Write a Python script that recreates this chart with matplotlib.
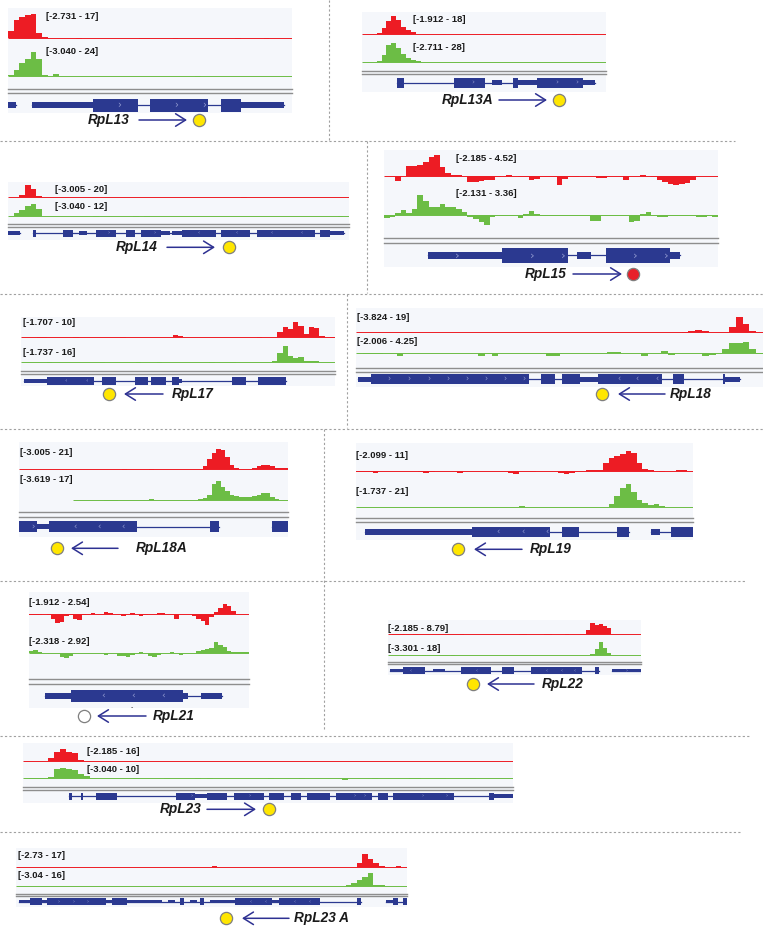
import matplotlib
matplotlib.use("Agg")
import matplotlib.pyplot as plt
from matplotlib.patches import Rectangle
import numpy as np

W, H = 763, 926
RED = "#ed1c24"
GREEN = "#6cbd45"
BLUE = "#2b3990"
ARROW = "#2e3192"
TRACK_BG = "#f5f7fb"
GRAY = "#8e8e8e"
SEP = "#a0a0a0"
FONT = "Liberation Sans"

# ---- data -------------------------------------------------------------
GENES = ["RpL13", "RpL13A", "RpL14", "RpL15", "RpL17", "RpL18",
         "RpL18A", "RpL19", "RpL21", "RpL22", "RpL23", "RpL23 A"]
STRAND = ["+", "+", "+", "+", "-", "-", "-", "-", "-", "-", "+", "-"]
STATUS = ["bound", "bound", "bound", "strong", "bound", "bound",
          "bound", "bound", "none", "bound", "bound", "bound"]
RED_RANGE = ["[-2.731 - 17]", "[-1.912 - 18]", "[-3.005 - 20]", "[-2.185 - 4.52]",
             "[-1.707 - 10]", "[-3.824 - 19]", "[-3.005 - 21]", "[-2.099 - 11]",
             "[-1.912 - 2.54]", "[-2.185 - 8.79]", "[-2.185 - 16]", "[-2.73 - 17]"]
GREEN_RANGE = ["[-3.040 - 24]", "[-2.711 - 28]", "[-3.040 - 12]", "[-2.131 - 3.36]",
               "[-1.737 - 16]", "[-2.006 - 4.25]", "[-3.619 - 17]", "[-1.737 - 21]",
               "[-2.318 - 2.92]", "[-3.301 - 18]", "[-3.040 - 10]", "[-3.04 - 16]"]

nan = float("nan")

# coverage, evenly spaced bins across each browser window
RPL13_RED = [5, 12.5, 14.5, 16, 16.5, 3, 0.3, 0, 0, 0,
             0, 0, -1.2, 0, 0, 0, 0, 0, 0, 0,
             0, 0, 0, -0.6, -0.6, 0, 0, 0, 0, -0.6,
             -0.4, 0, 0, 0, 0, 0, 0, 0, 0, 0,
             -0.8, 0, 0, 0, 0, -0.6, -0.3, 0, 0, 0]
RPL13_GREEN = [0.8, 5, 12, 15, 22, 15, 1, 0.3, 2, 0.3,
               0, 0, 0, 0, 0, 0, 0, 0, 0, 0,
               0, 0, 0, 0, 0, 0, 0, 0, 0, 0,
               0, 0, 0, -0.8, 0, 0, 0, 0, 0, 0,
               0, 0, 0, 0, 0, 0, 0, 0, 0, 0]
RPL13A_RED = [0, 0, 0, 1, 6, 12, 17.5, 13, 7, 4,
              1.5, 0.2, 0, 0, 0, 0, 0, -0.3, 0, 0,
              0, 0, 0, 0, 0, 0, 0, 0, 0, 0,
              0, 0, 0, 0, 0, 0, 0, 0, 0, 0,
              0, 0, 0, -0.5, -0.4, 0, 0, 0, 0, 0]
RPL13A_GREEN = [0, 0, 0, 2, 10, 24, 26, 19, 11, 6,
                3, 1.5, 0.3, 0, 0, 0, 0, 0, 0, 0,
                0, -0.5, 0, 0, 0, 0, 0, 0, 0, 0,
                0, 0, 0, 0, 0, 0, 0, 0, 0, 0,
                0, 0, 0, 0, 0, 0, 0, 0, 0.5, 0]
RPL14_RED = [0, 0, 3, 18, 12, 1.5, 0, 0, 0, 0,
             0, 0, 0, 0, 0, 0, 0, 0, 0, 0,
             0, 0, 0, 0, 0, 0, 0, 0, 0, 0,
             0, 0, 0, 0, 0, 0, 0, 0, 0, 0,
             0, -1.0, 0, 0, 0, 0, 0, 0.8, 0, 0,
             0, 0, 0, 0, 0, 0, 0, 0, 0, 0.5]
RPL14_GREEN = [0, 2.5, 6, 9, 11.5, 7, 0.3, 0, 0, 0,
               0, 0, 0, 0, 0, -1.0, 0, 0, 0, 0,
               0, 0, -0.5, 0, -1.0, 0, 0, 0, 0, 0,
               0, 0, 0, -0.3, 0, 0, 0, -0.4, 0, 0,
               0, 0, 0, 0, -0.3, 0, 0, 0, 0, 0,
               0, 0, 0, 0, 0, 0, 0, 0, -0.8, 0]
RPL15_RED = [0, -0.3, -1.0, 0, 2.1, 2.0, 2.3, 2.8, 4.0, 4.4,
             1.8, 0.6, 0.2, 0.3, 0, -1.2, -1.2, -1.1, -0.8, -0.9,
             -0.2, 0, 0.3, 0, -0.3, -0.3, -0.8, -0.6, -0.2, -0.2,
             -0.2, -1.8, -0.7, -0.2, -0.2, 0, 0, 0, -0.5, -0.5,
             -0.1, -0.1, -0.1, -0.8, 0, 0, 0.3, 0, -0.2, -0.8,
             -1.2, -1.7, -1.8, -1.6, -1.5, -0.8, -0.1, -0.1, -0.1, -0.1]
RPL15_GREEN = [-0.5, -0.3, 0.3, 0.8, 0.3, 0.9, 3.2, 2.2, 1.3, 1.2,
               1.8, 1.3, 1.2, 1.0, 0.4, -0.3, -0.6, -1.2, -1.6, -0.4,
               -0.1, -0.1, -0.2, -0.1, -0.5, 0.1, 0.6, 0.1, -0.2, -0.2,
               -0.2, -0.1, -0.1, -0.1, -0.2, -0.1, -0.2, -1.0, -1.0, -0.1,
               -0.1, -0.1, -0.1, -0.1, -1.2, -1.0, 0.2, 0.4, -0.1, -0.4,
               -0.3, -0.1, -0.1, -0.1, -0.1, -0.1, -0.3, -0.4, -0.1, -0.3]
RPL17_RED = [0.3, 0, 0, -0.2, -0.2, 0, 0, 0, 0.2, 0,
             -0.3, 0, 0, 0, 0.3, 0, 0, 0, 0, -0.3,
             0, 0, 0, 0, 0, 0, 0, 0, 0, 1.2,
             0.6, 0, 0, 0, 0.4, 0, 0, 0, 0, 0.3,
             0, 0.3, 0, 0, 0, -0.4, 0, 0, 0.2, 3.0,
             6.5, 5.0, 9.5, 7.0, 2.0, 6.5, 6.0, 0.5, 0.1, -0.4]
RPL17_GREEN = [0, 0, 0, 0, 0, -0.3, 0, 0, 0, 0,
               0.2, 0, 0, 0, 0, -0.3, 0, 0, 0, 0,
               0, 0, -0.3, 0, 0.2, 0, -0.3, 0, 0, 0,
               0, 0, 0, 0, 0, 0, -0.3, 0, 0, 0,
               -0.3, 0, 0, 0, 0, 0, 0, 0, 1.5, 9,
               15, 6, 4, 5, 1, 1.2, 1.0, 0.2, 0, 0]
RPL18_RED = [0, -0.8, 0, 0, 0, -0.3, 0, 0, 0, 0,
             0, 0, 0, 0, -0.3, 0, 0, 0, 0, 0,
             0, 0, 0, 0, 0, 0, 0, 0, 0, 0,
             0, 0, 0, 0, 0, 0, 0, 0, 0, -0.4,
             -0.3, 0, 0, 0, 0, 0, 0, 0, -1.0, 0.5,
             1.8, 0.5, 0, -0.3, 0, 5, 17, 9, 1, 0]
RPL18_GREEN = [0, -0.3, -0.3, -0.3, 0, -0.3, -0.8, 0, 0, 0,
               0, 0, 0, 0, 0, 0, 0, 0, -0.8, -0.3,
               -0.9, 0, 0, 0, 0, 0, 0, 0, -0.8, -0.8,
               0, 0, 0, 0, 0, 0, 0, 0.3, 0.3, 0,
               0, 0, -0.7, 0, 0, 0.6, -0.5, 0, 0, 0,
               0, -0.8, -0.4, 0, 1.5, 3.2, 3.3, 3.7, 1.5, -0.3]
RPL18A_RED = [0, -0.3, 0, 0, 0, 0, 0, 0, 0, 0,
              0, 0, 0, 0, 0, 0, 0, 0, 0, 0,
              0, 0, 0, -1.0, 0, 0, 0, 0, 0, -0.7,
              0, 0, 0, 0, 0, 0, 0, 0, 0, -0.3,
              0, 3, 9, 15, 19, 18, 11, 4, 0.5, 0.1,
              0.1, 0.1, 1.0, 2.5, 4, 4, 2.5, 1.0, 0.6, 1.2]
RPL18A_GREEN = [nan, nan, nan, nan, nan, nan, nan, nan, nan, nan,
                nan, nan, 0.2, 0.2, 0.2, 0.2, 0.2, 0.2, 0.2, -0.5,
                -0.5, -0.5, 0, 0, 0, 0, 0, 0, 0, 0.5,
                0.1, 0.1, 0.1, 0.1, 0.1, 0.1, 0.1, 0.1, 0.1, 0.1,
                1, 2, 4, 13, 16, 11, 7, 4.5, 3, 2.7,
                2.5, 2.5, 3, 4.5, 5.5, 5.5, 2.5, 0.8, 0.3, 0.2]
RPL19_RED = [-0.5, -0.5, -0.6, -1.5, -0.3, 0, 0, 0, -0.3, 0,
             0, -0.7, -1.0, -0.7, 0, 0, 0, 0, -1.0, 0,
             0, 0, 0, 0, 0, 0, 0, -1.0, -1.8, 0,
             0, -0.5, 0, 0, -0.3, 0, -1.0, -2.0, -1.0, -0.3,
             0, 0.3, 0.3, 0.1, 4, 7, 8, 9, 10.5, 9.5,
             4, 1, 0.3, 0, -0.6, 0, 0, 0.2, 0.5, 0]
RPL19_GREEN = [0, 0, 0, 0, 0, 0, 0, 0, 0, 0,
               0, 0, 0, 0, 0, 0, 0, 0, 0, 0,
               0, 0, 0, 0, 0, 0, 0, 0, 0, 0.4,
               0, 0, 0, 0, -0.3, 0, 0, 0, 0, 0,
               0, 0, 0, 0, 0, 2, 9, 16, 20, 13,
               6, 3, 1.5, 2, 0.2, 0, 0, 0, 0, 0]
RPL21_RED = [-0.2, -0.2, -0.2, -0.1, -0.2, -1.3, -2.3, -2.0, -0.5, -0.3,
             -1.2, -1.5, -0.3, 0, 0.3, 0, 0, 0.6, 0.3, 0,
             0, -0.4, 0, 0.3, 0, -0.6, -0.3, 0, 0, 0.2,
             0.2, 0, 0, -1.2, 0.1, 0, 0, -0.5, -1.2, -1.8,
             -2.8, -0.8, 0.4, 1.6, 2.5, 2.0, 0.8, 0.1, 0, 0]
RPL21_GREEN = [0.5, 0.7, 0.3, 0.1, 0.1, 0.1, 0, -0.7, -1.0, -0.5,
               0.1, 0, 0, 0, 0, 0, 0, -0.4, 0, 0,
               -0.5, -0.6, -0.8, -0.3, 0, 0.3, 0, -0.5, -0.8, -0.3,
               0, 0, 0.2, 0, -0.4, 0, 0.1, 0.1, 0.4, 0.8,
               1.0, 1.2, 2.5, 1.8, 1.3, 0.5, 0.2, 0.2, 0.3, 0.3]
RPL22_RED = [0, -0.3, -0.3, -0.3, 0, 0, -0.3, 0, 0, 0,
             0, 0, 0, 0, 0, 0, 0, -0.3, 0, 0,
             0, 0, 0, 0, 0, 0, 0, 0, 0, 0,
             0, -0.6, -0.4, 0, 0, 0, 0, -0.5, -0.6, 0,
             0, 0, -0.2, 0, 0.5, 0.5, 0.5, 3, 8.5, 7,
             7.5, 6.5, 4.5, 0.3, 0, 0, 0, 0, 0, 0]
RPL22_GREEN = [0, 0, 0, -0.3, 0, 0, 0, 0, -0.4, 0,
               0, 0, 0, 0, 0, -0.3, 0, 0, 0, 0,
               0, 0, 0, 0, 0, 0, 0, 0.4, 0, 0,
               0, 0, 0, 0, 0, 0, 0, 0, 0, 0,
               0, 0, 0, 0, 0, 0, 0, 0, 2, 8,
               17, 10, 2.5, 0.5, 0, 0, 0, 0, 0, 0]
RPL23_RED = [0, -0.4, -0.4, -0.4, 3, 11, 14, 11, 10, 1,
             0.2, 0, 0, 0, -0.3, 0, 0, 0, 0, 0,
             0, 0, 0, 0, 0, 0, 0, 0, 0, -0.3,
             0, 0, 0, 0, -0.2, 0, 0, 0, 0, 0,
             0, 0, 0, 0, 0, 0, 0, 0, 0, -0.5,
             0, 0, 0, -0.3, 0, 0, 0, 0, 0, 0,
             0, 0, 0, 0, 0, 0, -0.3, 0, 0, 0,
             0, 0, 0, 0, 0, -0.2, 0, 0, 0, 0]
RPL23_GREEN = [0, -0.3, -0.3, -0.3, 1, 8, 9, 8, 7, 4,
               2, 0.3, 0, 0, 0, 0, 0, 0, -0.3, 0,
               0, 0, 0, -0.3, 0, 0, 0, 0, -0.8, 0,
               -0.3, 0, 0, 0, 0, 0, 0, 0, 0, 0,
               -0.3, 0, 0, 0, 0, -0.3, 0, 0, 0, 0,
               0, 0, -1.5, 0, 0, 0, 0, -0.3, 0, 0,
               0, 0, 0, -0.8, -0.5, 0, 0, 0, -0.3, 0,
               0, 0, 0, -0.3, 0, 0, 0, 0.2, 0.2, 0.2]
RPL23A_RED = [0, 0, 0, -0.3, 0, 0, 0, 0, -0.6, 0,
              0, 0, 0, 0, 0, 0, 0, 0, 0, 0,
              0, 0, -0.4, 0, 0, 0, 0, 0, 0, 0,
              0, 0, 0, 0, 0, 1.5, 0, 0, 0, 0,
              0, 0, 0, 0, 0, 0, 0, 0, -0.5, 0,
              0, 0, 0, 0, -0.6, 0, 0, 0, 0, 0,
              0, 5, 15, 9, 5, 1, -0.6, 0, 0.3, 0]
RPL23A_GREEN = [0, 0, 0, 0, 0, 0, 0, 0, 0, 0,
                -0.4, 0, 0, -0.7, 0, 0, 0, 0, 0, -0.3,
                0, 0, 0, -0.5, 0, 0, 0, 0, -0.5, 0,
                0, -0.7, -0.7, 0, 0, 0, 0, 0, 0, 0,
                0, 0, 0, 0, 0, 0, 0, 0, 0, 0,
                0, 0, 0, 0, 0, 0, 0, 0, 0, 0.5,
                2.5, 7, 10, 14, 0.5, 0.3, 0, -0.3, 0, 0]

# gene models, % of window: (start, end, kind)  c = coding, u = UTR
RPL13_EXONS = [[(0, 2.7, "u")],
               [(8.5, 29.9, "u"), (29.9, 45.8, "c"), (50.1, 70.4, "c"),
                (75.1, 82.2, "c"), (82.2, 97.1, "u")]]
RPL13A_EXONS = [[(14.3, 17.1, "c"), (37.5, 50.5, "c"), (53.2, 57.3, "u"),
                 (61.7, 64.1, "c"), (64.1, 71.6, "u"), (71.6, 90.7, "c"),
                 (90.7, 95.5, "u")]]
RPL14_EXONS = [[(0, 3.4, "u")],
               [(7.3, 8.1, "c"), (16.1, 19.1, "c"), (20.7, 23.2, "u"),
                (25.9, 31.6, "c"), (34.7, 37.2, "c"), (39.1, 45.0, "c"),
                (45.0, 47.5, "u"), (48.2, 50.9, "u"), (50.9, 61.0, "c"),
                (62.6, 71.1, "c"), (72.9, 90.0, "c"), (91.5, 94.4, "c"),
                (94.4, 98.6, "u")]]
RPL15_EXONS = [[(13.1, 35.3, "u"), (35.3, 55.2, "c"), (57.7, 62.0, "u"),
                (66.4, 85.7, "c"), (85.7, 88.7, "u")]]
RPL17_EXONS = [[(0.8, 8.3, "u"), (8.3, 23.1, "c"), (25.8, 30.3, "c"),
                (36.4, 40.6, "c"), (41.5, 46.2, "c"), (48.0, 50.2, "c"),
                (50.2, 51.2, "u"), (67.1, 71.6, "c"), (75.6, 84.4, "c")]]
RPL18_EXONS = [[(0.6, 3.7, "u"), (3.7, 42.4, "c"), (45.5, 48.8, "c"),
                (50.7, 55.1, "c"), (55.1, 59.4, "u"), (59.4, 75.2, "c"),
                (77.8, 80.7, "c"), (90.2, 90.7, "c"), (90.7, 94.4, "u")]]
RPL18A_EXONS = [[(0, 6.7, "c"), (6.7, 11.2, "u"), (11.2, 43.9, "c"),
                 (70.9, 74.3, "c")],
                [(94.2, 100, "c")]]
RPL19_EXONS = [[(2.6, 34.4, "u"), (34.4, 57.7, "c"), (61.0, 66.1, "c"),
                (77.5, 81.0, "c")],
               [(87.4, 90.3, "u"), (93.6, 100, "c")]]
RPL21_EXONS = [[(7.1, 19.2, "u"), (19.2, 70.0, "c"), (70.0, 72.3, "u"),
                (78.3, 87.9, "u")]]
RPL22_EXONS = [[(0.7, 5.9, "u"), (5.9, 14.5, "c"), (17.8, 22.4, "u"),
                (29.0, 40.9, "c"), (45.1, 49.9, "c"), (56.7, 76.5, "c"),
                (81.8, 83.4, "c")],
               [(88.4, 100, "u")]]
RPL23_EXONS = [[(9.4, 10.1, "c"), (11.9, 12.2, "c"), (14.8, 19.2, "c"),
                (31.2, 35.2, "c"), (35.2, 37.6, "u"), (37.6, 41.7, "c"),
                (43.1, 49.2, "c"), (50.3, 53.3, "c"), (54.6, 56.8, "c"),
                (58.0, 62.6, "c"), (63.8, 71.2, "c"), (72.4, 74.4, "c"),
                (75.5, 87.9, "c"), (95.1, 96.1, "c"), (96.1, 100, "u")]]
RPL23A_EXONS = [[(0.7, 3.7, "u"), (3.7, 6.6, "c"), (6.6, 7.9, "u"),
                 (7.9, 23.1, "c"), (23.1, 24.5, "u"), (24.5, 28.3, "c"),
                 (28.3, 37.3, "u"), (39.0, 40.7, "u"), (42.0, 43.0, "c"),
                 (44.5, 46.2, "u"), (47.1, 48.2, "c"), (49.6, 56.0, "u"),
                 (56.0, 65.6, "c"), (65.6, 67.3, "u"), (67.3, 77.7, "c"),
                 (87.1, 88.3, "c")],
                [(94.7, 96.4, "u"), (96.4, 97.7, "c"), (99.0, 100, "c")]]

# strand chevrons drawn inside exons: (position %, direction)
RPL13_CHEV = [(39.1, ">"), (59.3, ">"), (68.9, ">")]
RPL13A_CHEV = [(45.4, ">"), (79.8, ">"), (88.0, ">")]
RPL14_CHEV = [(29.4, ">"), (43.1, ">"), (55.8, "<"), (67.0, "<"), (77.3, "<"), (86.1, "<")]
RPL15_CHEV = [(21.8, ">"), (44.3, ">"), (53.7, ">"), (75.2, ">"), (84.5, ">")]
RPL17_CHEV = [(14.1, "<"), (20.8, "<")]
RPL18_CHEV = [(8.0, ">"), (12.9, ">"), (17.8, ">"), (22.5, ">"), (27.2, ">"),
              (31.9, ">"), (36.6, ">"), (41.3, ">"), (64.7, "<"), (69.0, "<"), (73.9, "<")]
RPL18A_CHEV = [(5.0, ">"), (20.7, "<"), (29.7, "<"), (38.7, "<")]
RPL19_CHEV = [(42.1, "<"), (49.5, "<"), (56.6, "<")]
RPL21_CHEV = [(33.6, "<"), (47.3, "<"), (60.9, "<")]
RPL22_CHEV = [(9.0, "<"), (35.0, "<"), (62.7, "<"), (68.6, "<"), (73.9, "<"), (94.3, ">")]
RPL23_CHEV = [(34.4, ">"), (46.3, ">"), (67.7, ">"), (69.7, ">"), (81.6, ">"), (86.4, ">")]
RPL23A_CHEV = [(10.9, ">"), (14.6, ">"), (18.4, ">"), (60.0, "<"), (63.8, "<"),
               (71.3, "<"), (75.1, "<")]

TRACKS = [
    (RPL13_RED, RPL13_GREEN, RPL13_EXONS, RPL13_CHEV),
    (RPL13A_RED, RPL13A_GREEN, RPL13A_EXONS, RPL13A_CHEV),
    (RPL14_RED, RPL14_GREEN, RPL14_EXONS, RPL14_CHEV),
    (RPL15_RED, RPL15_GREEN, RPL15_EXONS, RPL15_CHEV),
    (RPL17_RED, RPL17_GREEN, RPL17_EXONS, RPL17_CHEV),
    (RPL18_RED, RPL18_GREEN, RPL18_EXONS, RPL18_CHEV),
    (RPL18A_RED, RPL18A_GREEN, RPL18A_EXONS, RPL18A_CHEV),
    (RPL19_RED, RPL19_GREEN, RPL19_EXONS, RPL19_CHEV),
    (RPL21_RED, RPL21_GREEN, RPL21_EXONS, RPL21_CHEV),
    (RPL22_RED, RPL22_GREEN, RPL22_EXONS, RPL22_CHEV),
    (RPL23_RED, RPL23_GREEN, RPL23_EXONS, RPL23_CHEV),
    (RPL23A_RED, RPL23A_GREEN, RPL23A_EXONS, RPL23A_CHEV),
]

# ---- layout (figure pixels) --------------------------------------------
LAYOUT = [
    dict(x=(8, 292), bg=(8, 113), red=(13.3, 41.6), green=(49.3, 79.4), lab_x=46,
         lab_y=(16.7, 51.7), gray=(89.2, 93.0), gene=(105, 13), row=120, name_x=108.5,
         arrow=(139, 187), dot=199),
    dict(x=(362, 606), bg=(11.7, 91.7), red=(15, 36), green=(41.7, 64), lab_x=413,
         lab_y=(20, 48), gray=(70.7, 74), gene=(82.7, 9.7), row=100, name_x=467.5,
         arrow=(499, 547), dot=559),
    dict(x=(8, 349), bg=(181.7, 240), red=(184, 199.3), green=(203.3, 219.2), lab_x=55,
         lab_y=(189.3, 206.7), gray=(224.3, 226.7), gene=(233.3, 7.3), row=247.3,
         name_x=136.5, arrow=(167, 215), dot=229),
    dict(x=(384, 718), bg=(150, 266.7), red=(154, 186.6), green=(194, 228.3), lab_x=456,
         lab_y=(158.3, 194), gray=(238.3, 243.3), gene=(255.3, 15), row=274, name_x=546,
         arrow=(573, 622), dot=633),
    dict(x=(21, 335), bg=(316.7, 385.7), red=(321, 340.1), green=(345, 364.2), lab_x=23,
         lab_y=(322.3, 352.3), gray=(371, 373.7), gene=(381, 8.3), row=394, name_x=193,
         arrow=(124, 163), dot=109),
    dict(x=(356, 763), bg=(308, 386.7), red=(315.7, 334.9), green=(340, 359.6), lab_x=357,
         lab_y=(318, 341), gray=(368.3, 371.7), gene=(379.3, 10), row=394, name_x=691,
         arrow=(618, 665), dot=602),
    dict(x=(19, 288), bg=(441.7, 536.7), red=(446.7, 472.2), green=(479.3, 504.4), lab_x=20,
         lab_y=(452.7, 480), gray=(512.3, 516.7), gene=(526.7, 11), row=548.3, name_x=162,
         arrow=(71, 118), dot=57),
    dict(x=(356, 693), bg=(443.3, 540), red=(450, 474.6), green=(482.7, 508.7), lab_x=356,
         lab_y=(455, 491.7), gray=(518.3, 521.7), gene=(532, 10.7), row=549.3, name_x=550.5,
         arrow=(474, 522), dot=458),
    dict(x=(29, 249), bg=(591.7, 708.3), red=(604, 621.5), green=(640, 663.9), lab_x=29,
         lab_y=(602.7, 641.7), gray=(679, 683.7), gene=(695.7, 12.3), row=716, name_x=174,
         arrow=(97, 146), dot=84),
    dict(x=(388, 641), bg=(620, 675), red=(622.7, 637.2), green=(641.7, 657.8), lab_x=388,
         lab_y=(628.3, 648.3), gray=(661.7, 664), gene=(670.7, 6.7), row=684, name_x=562.5,
         arrow=(487, 534), dot=473),
    dict(x=(23, 513), bg=(743.3, 803.3), red=(747.7, 762.8), green=(766.7, 781.9), lab_x=87,
         lab_y=(751, 770), gray=(787.3, 790), gene=(796.3, 7.3), row=809.3, name_x=181,
         arrow=(207, 256), dot=269),
    dict(x=(16, 407), bg=(848.3, 906.7), red=(852.7, 869), green=(871.7, 888.3), lab_x=18,
         lab_y=(856, 875), gray=(894, 896), gene=(901.7, 6.7), row=918.3, name_x=322,
         arrow=(242, 289), dot=226),
]

SEPARATORS = [
    ((329, 0), (329, 140)),
    ((0, 141), (735, 141)),
    ((367, 141), (367, 293)),
    ((0, 294), (763, 294)),
    ((347, 294), (347, 428)),
    ((0, 429), (763, 429)),
    ((324, 429), (324, 730)),
    ((0, 581), (745, 581)),
    ((0, 736), (750, 736)),
    ((0, 832), (740, 832)),
]

STATUS_FILL = {"bound": "#ffe600", "strong": "#e8202a", "none": "#ffffff"}


def parse_range(label):
    lo, hi = label.strip("[]").split(" - ")
    return float(lo), float(hi)


def px_axes(fig, x0, x1, top, bot):
    ax = fig.add_axes([x0 / W, 1 - bot / H, (x1 - x0) / W, (bot - top) / H])
    ax.set_axis_off()
    ax.patch.set_alpha(0)
    return ax


def draw_track(ax, values, lo, hi, color):
    v = np.array(values, dtype=float)
    edges = np.linspace(0, 100, len(v) + 1)
    ok = np.isfinite(v)
    ax.stairs(np.where(ok, v, 0), edges, baseline=0, fill=True,
              color=color, lw=0, clip_on=False)
    # baseline only where the track has data
    start = None
    for i, good in enumerate(list(ok) + [False]):
        if good and start is None:
            start = i
        elif not good and start is not None:
            ax.plot([edges[start], edges[i]], [0, 0], color=color, lw=0.7,
                    solid_capstyle="butt")
            start = None
    ax.set_xlim(0, 100)
    ax.set_ylim(lo, hi)


def draw_gene(ax, genes, chevrons, height_px):
    for gene in genes:
        ax.plot([gene[0][0], gene[-1][1]], [0, 0], color=BLUE, lw=0.9)
        for s, e, kind in gene:
            h = 1.0 if kind == "c" else 0.5
            ax.add_patch(Rectangle((s, -h), e - s, 2 * h, color=BLUE, lw=0))
    for x, d in chevrons:
        ax.text(x, 0, "\u203a" if d == ">" else "\u2039", color="#8f98cf",
                ha="center", va="center", fontsize=height_px * 0.55,
                fontfamily="DejaVu Sans")
    ax.set_xlim(0, 100)
    ax.set_ylim(-1, 1)


fig = plt.figure(figsize=(W / 100, H / 100), dpi=100)
fig.patch.set_facecolor("white")

canvas = fig.add_axes([0, 0, 1, 1])
canvas.set_xlim(0, W)
canvas.set_ylim(H, 0)
canvas.set_axis_off()

for (p0, p1) in SEPARATORS:
    canvas.plot([p0[0], p1[0]], [p0[1], p1[1]], color=SEP, lw=0.8,
                linestyle=(0, (2, 2)))

for lay in LAYOUT:
    x0, x1 = lay["x"]
    t, b = lay["bg"]
    canvas.add_patch(Rectangle((x0, t), x1 - x0, b - t, color=TRACK_BG, lw=0))
    for gy in lay["gray"]:
        canvas.plot([x0, x1], [gy, gy], color=GRAY, lw=1.0)

for i, lay in enumerate(LAYOUT):
    red, green, exons, chev = TRACKS[i]
    x0, x1 = lay["x"]
    ax_r = px_axes(fig, x0, x1, *lay["red"])
    draw_track(ax_r, red, *parse_range(RED_RANGE[i]), RED)
    ax_g = px_axes(fig, x0, x1, *lay["green"])
    draw_track(ax_g, green, *parse_range(GREEN_RANGE[i]), GREEN)
    gy, gh = lay["gene"]
    ax_e = px_axes(fig, x0, x1, gy - gh / 2, gy + gh / 2)
    draw_gene(ax_e, exons, chev, gh)

overlay = fig.add_axes([0, 0, 1, 1])
overlay.set_xlim(0, W)
overlay.set_ylim(H, 0)
overlay.set_axis_off()
overlay.patch.set_alpha(0)

for i, lay in enumerate(LAYOUT):
    for label, ly in zip((RED_RANGE[i], GREEN_RANGE[i]), lay["lab_y"]):
        overlay.text(lay["lab_x"], ly, label, fontsize=6.8, fontweight="bold",
                     fontfamily=FONT, color="#1a1a1a", ha="left", va="center")
    y = lay["row"]
    overlay.text(lay["name_x"], y, GENES[i], fontsize=9.8, fontweight="bold",
                 fontstyle="italic", fontfamily=FONT, color="#1a1a1a",
                 ha="center", va="center")
    a0, a1 = lay["arrow"]
    tail, head = (a0, a1) if STRAND[i] == "+" else (a1, a0)
    overlay.annotate("", xy=(head, y), xytext=(tail, y),
                     arrowprops=dict(arrowstyle="->,head_length=0.72,head_width=0.45",
                                     color=ARROW, lw=1.1, shrinkA=0, shrinkB=0))
    overlay.plot(lay["dot"], y, "o", ms=8.8, mfc=STATUS_FILL[STATUS[i]],
                 mec="#7f7f7f", mew=0.9)

# stray tick under the RpL21 model in the source scan
overlay.text(132, 707.5, "-", fontsize=5, fontfamily=FONT, color="#333333",
             ha="center", va="center")

fig.savefig("out.png", dpi=100)
